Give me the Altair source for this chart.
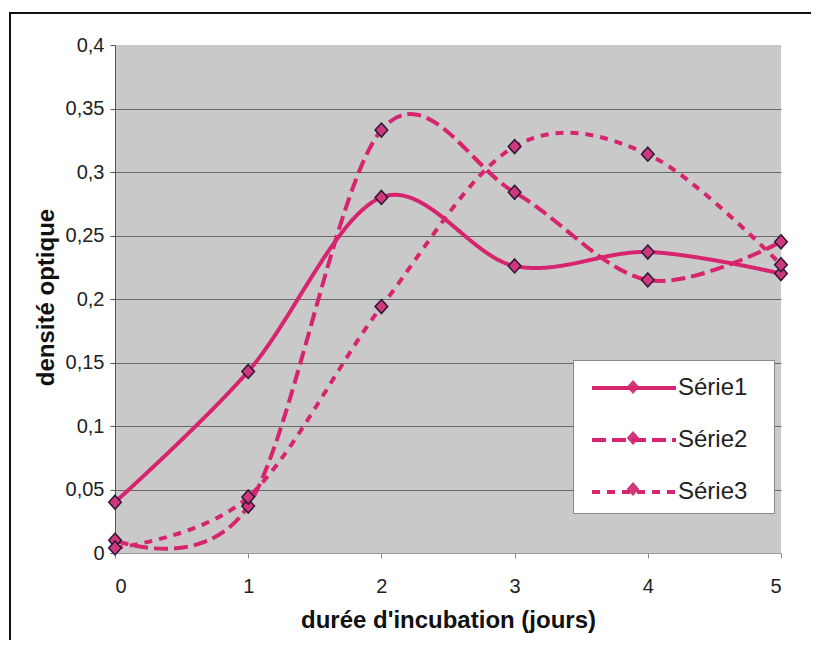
import altair as alt
import pandas as pd

# ---- data ----
days = [0, 1, 2, 3, 4, 5]
serie1 = [0.040, 0.143, 0.280, 0.226, 0.237, 0.220]
serie2 = [0.010, 0.037, 0.333, 0.284, 0.215, 0.245]
serie3 = [0.004, 0.044, 0.194, 0.320, 0.314, 0.227]
series_names = ["Série1", "Série2", "Série3"]
y_ticks = [0, 0.05, 0.1, 0.15, 0.2, 0.25, 0.3, 0.35, 0.4]
x_ticks = [0, 1, 2, 3, 4, 5]

rows = []
for name, vals in zip(series_names, [serie1, serie2, serie3]):
    for d, v in zip(days, vals):
        rows.append({"x": d, "value": v, "series": name, "serie_pt": name})
df = pd.DataFrame(rows)

LINE = "#d6246e"
MFILL = "#d0387c"
MSTROKE = "#2a1838"
FONT = "Liberation Sans"
DIAMOND = "M0,-0.5L0.45,0L0,0.5L-0.45,0Z"

W, H = 666, 508

x_enc = alt.X(
    "x:Q",
    scale=alt.Scale(domain=[0, 5], nice=False, zero=False),
    axis=alt.Axis(
        values=x_ticks, format="d", grid=False,
        labelFont=FONT, labelFontSize=20, labelColor="#222",
        labelPadding=18, tickSize=5, tickColor="#888", domainColor="#999",
        titleFont=FONT, titleFontSize=24, titleFontWeight="bold", titleColor="#111",
        titlePadding=12,
    ),
    title="durée d'incubation (jours)",
)
y_enc = alt.Y(
    "value:Q",
    scale=alt.Scale(domain=[0, 0.4], nice=False),
    axis=alt.Axis(
        values=y_ticks,
        labelExpr="replace(format(datum.value, '.2~f'), '.', ',')",
        labelFont=FONT, labelFontSize=20, labelColor="#222",
        labelPadding=6, tickSize=5, tickColor="#555", domainColor="#555",
        gridColor="#6a6a6a", gridWidth=1,
        gridOpacity={"condition": {"test": "datum.value >= 0.4 || datum.value == 0", "value": 0}, "value": 1},
        titleFont=FONT, titleFontSize=24, titleFontWeight="bold", titleColor="#111",
        titleAngle=270, titleX=-69, titleY=252, titleAlign="center", titleBaseline="middle",
    ),
    title="densité optique",
)

legend_common = dict(
    title=None, orient="none", legendX=458, legendY=315,
    symbolSize=784, symbolOffset=33,
    labelFont=FONT, labelFontSize=24, padding=12, rowPadding=24,
)

lines = alt.Chart(df).mark_line(
    interpolate="cardinal", tension=0, strokeWidth=4, color=LINE
).encode(
    x=x_enc,
    y=y_enc,
    strokeDash=alt.StrokeDash(
        "series:N",
        scale=alt.Scale(domain=series_names, range=[[1, 0], [14, 6], [8, 7]]),
        legend=alt.Legend(
            symbolType="M-3,0H3", symbolStrokeWidth=4, symbolStrokeColor=LINE,
            labelOffset=28, labelColor="#222", zindex=2,
            **legend_common,
        ),
    ),
)

points = alt.Chart(df).mark_point(
    filled=True, size=784, fill=MFILL, stroke=MSTROKE, strokeWidth=1.5, opacity=1
).encode(
    x="x:Q",
    y="value:Q",
    shape=alt.Shape(
        "serie_pt:N",
        scale=alt.Scale(range=[DIAMOND, DIAMOND, DIAMOND]),
        legend=alt.Legend(
            symbolStrokeWidth=1.5, symbolFillColor=MFILL, symbolStrokeColor=MSTROKE,
            labelOffset=114, labelExpr="''",
            fillColor="white", strokeColor="#888", zindex=1,
            **legend_common,
        ),
    ),
)

frame_top = alt.Chart(alt.Data(values=[{}])).mark_rule(
    stroke="#111", strokeWidth=2
).encode(x=alt.value(-105), x2=alt.value(2000), y=alt.value(-32))
frame_left = alt.Chart(alt.Data(values=[{}])).mark_rule(
    stroke="#111", strokeWidth=2
).encode(x=alt.value(-105), y=alt.value(-33), y2=alt.value(2000))

chart = alt.layer(frame_top, frame_left, lines, points).properties(
    width=W, height=H,
    autosize=alt.AutoSizeParams(type="none"),
    padding={"left": 107, "top": 37, "right": 30, "bottom": 87},
    background="white",
).configure_view(fill="#c9c9c9", stroke=None)

chart.save("out.html", embed_options={"renderer": "svg", "actions": False})
